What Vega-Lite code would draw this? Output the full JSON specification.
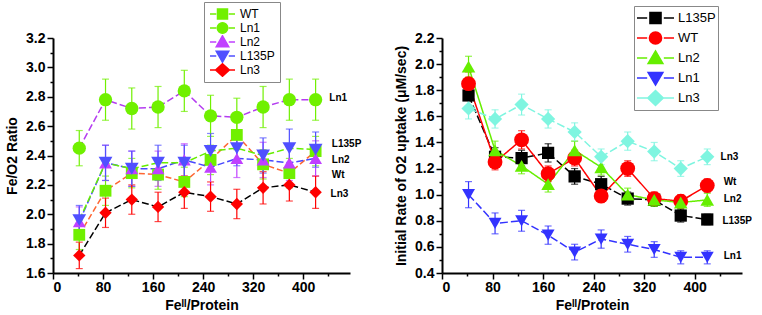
{
  "$schema": "https://vega.github.io/schema/vega-lite/v6.json",
  "padding": {"left": 5, "top": 1, "right": 0, "bottom": 0},
  "background": "white",
  "spacing": 32,
  "resolve": {
    "scale": {"color": "independent", "shape": "independent", "size": "independent", "stroke": "independent", "strokeDash": "independent"},
    "legend": {"color": "independent"}
  },
  "config": {
    "view": {"stroke": null},
    "font": "Liberation Sans",
    "axis": {
      "grid": false,
      "domainColor": "#000000",
      "domainWidth": 2,
      "tickColor": "#000000",
      "tickWidth": 1.5,
      "tickSize": 6,
      "labelOverlap": false,
      "labelFont": "Liberation Sans",
      "labelFontWeight": "bold",
      "labelFontSize": 14,
      "labelColor": "#000000",
      "titleFont": "Liberation Sans",
      "titleFontWeight": "bold",
      "titleFontSize": 14,
      "titleColor": "#000000"
    },
    "legend": {
      "labelFont": "Liberation Sans",
      "labelColor": "#000000"
    }
  },
  "datasets": {
    "left": [
      {"s": "WT", "fe": 42, "v": 1.86, "e": 0.10},
      {"s": "WT", "fe": 84, "v": 2.16, "e": 0.10},
      {"s": "WT", "fe": 126, "v": 2.28, "e": 0.10},
      {"s": "WT", "fe": 168, "v": 2.27, "e": 0.10},
      {"s": "WT", "fe": 210, "v": 2.22, "e": 0.10},
      {"s": "WT", "fe": 252, "v": 2.37, "e": 0.10},
      {"s": "WT", "fe": 294, "v": 2.54, "e": 0.10},
      {"s": "WT", "fe": 336, "v": 2.34, "e": 0.10},
      {"s": "WT", "fe": 378, "v": 2.28, "e": 0.10},
      {"s": "WT", "fe": 420, "v": 2.43, "e": 0.10},
      {"s": "Ln1", "fe": 42, "v": 2.45, "e": 0.12},
      {"s": "Ln1", "fe": 84, "v": 2.78, "e": 0.14},
      {"s": "Ln1", "fe": 126, "v": 2.72, "e": 0.14},
      {"s": "Ln1", "fe": 168, "v": 2.73, "e": 0.14},
      {"s": "Ln1", "fe": 210, "v": 2.84, "e": 0.14},
      {"s": "Ln1", "fe": 252, "v": 2.67, "e": 0.14},
      {"s": "Ln1", "fe": 294, "v": 2.66, "e": 0.13},
      {"s": "Ln1", "fe": 336, "v": 2.73, "e": 0.14},
      {"s": "Ln1", "fe": 378, "v": 2.78, "e": 0.14},
      {"s": "Ln1", "fe": 420, "v": 2.78, "e": 0.14},
      {"s": "Ln2", "fe": 42, "v": 1.95, "e": 0.10},
      {"s": "Ln2", "fe": 84, "v": 2.35, "e": 0.12},
      {"s": "Ln2", "fe": 126, "v": 2.31, "e": 0.12},
      {"s": "Ln2", "fe": 168, "v": 2.31, "e": 0.12},
      {"s": "Ln2", "fe": 210, "v": 2.37, "e": 0.11},
      {"s": "Ln2", "fe": 252, "v": 2.32, "e": 0.12},
      {"s": "Ln2", "fe": 294, "v": 2.38, "e": 0.13},
      {"s": "Ln2", "fe": 336, "v": 2.37, "e": 0.12},
      {"s": "Ln2", "fe": 378, "v": 2.35, "e": 0.12},
      {"s": "Ln2", "fe": 420, "v": 2.38, "e": 0.12},
      {"s": "L135P", "fe": 42, "v": 1.96, "e": 0.10},
      {"s": "L135P", "fe": 84, "v": 2.35, "e": 0.12},
      {"s": "L135P", "fe": 126, "v": 2.31, "e": 0.12},
      {"s": "L135P", "fe": 168, "v": 2.35, "e": 0.12},
      {"s": "L135P", "fe": 210, "v": 2.35, "e": 0.12},
      {"s": "L135P", "fe": 252, "v": 2.43, "e": 0.12},
      {"s": "L135P", "fe": 294, "v": 2.45, "e": 0.12},
      {"s": "L135P", "fe": 336, "v": 2.40, "e": 0.12},
      {"s": "L135P", "fe": 378, "v": 2.45, "e": 0.13},
      {"s": "L135P", "fe": 420, "v": 2.44, "e": 0.12},
      {"s": "Ln3", "fe": 42, "v": 1.72, "e": 0.09},
      {"s": "Ln3", "fe": 84, "v": 2.01, "e": 0.10},
      {"s": "Ln3", "fe": 126, "v": 2.10, "e": 0.10},
      {"s": "Ln3", "fe": 168, "v": 2.05, "e": 0.10},
      {"s": "Ln3", "fe": 210, "v": 2.15, "e": 0.11},
      {"s": "Ln3", "fe": 252, "v": 2.12, "e": 0.10},
      {"s": "Ln3", "fe": 294, "v": 2.07, "e": 0.10},
      {"s": "Ln3", "fe": 336, "v": 2.18, "e": 0.11},
      {"s": "Ln3", "fe": 378, "v": 2.20, "e": 0.11},
      {"s": "Ln3", "fe": 420, "v": 2.15, "e": 0.11}
    ],
    "right": [
      {"s": "L135P", "fe": 42, "v": 1.76, "e": 0.09},
      {"s": "L135P", "fe": 84, "v": 1.29, "e": 0.07},
      {"s": "L135P", "fe": 126, "v": 1.28, "e": 0.06},
      {"s": "L135P", "fe": 168, "v": 1.32, "e": 0.07},
      {"s": "L135P", "fe": 210, "v": 1.14, "e": 0.06},
      {"s": "L135P", "fe": 252, "v": 1.08, "e": 0.06},
      {"s": "L135P", "fe": 294, "v": 0.97, "e": 0.05},
      {"s": "L135P", "fe": 336, "v": 0.96, "e": 0.05},
      {"s": "L135P", "fe": 378, "v": 0.84, "e": 0.05},
      {"s": "L135P", "fe": 420, "v": 0.81, "e": 0.04},
      {"s": "WT", "fe": 42, "v": 1.85, "e": 0.09},
      {"s": "WT", "fe": 84, "v": 1.25, "e": 0.06},
      {"s": "WT", "fe": 126, "v": 1.42, "e": 0.07},
      {"s": "WT", "fe": 168, "v": 1.16, "e": 0.06},
      {"s": "WT", "fe": 210, "v": 1.28, "e": 0.06},
      {"s": "WT", "fe": 252, "v": 0.99, "e": 0.05},
      {"s": "WT", "fe": 294, "v": 1.20, "e": 0.06},
      {"s": "WT", "fe": 336, "v": 0.97, "e": 0.05},
      {"s": "WT", "fe": 378, "v": 0.95, "e": 0.05},
      {"s": "WT", "fe": 420, "v": 1.07, "e": 0.05},
      {"s": "Ln2", "fe": 42, "v": 1.98, "e": 0.08},
      {"s": "Ln2", "fe": 84, "v": 1.34, "e": 0.07},
      {"s": "Ln2", "fe": 126, "v": 1.22, "e": 0.06},
      {"s": "Ln2", "fe": 168, "v": 1.08, "e": 0.06},
      {"s": "Ln2", "fe": 210, "v": 1.34, "e": 0.07},
      {"s": "Ln2", "fe": 252, "v": 1.21, "e": 0.06},
      {"s": "Ln2", "fe": 294, "v": 1.00, "e": 0.05},
      {"s": "Ln2", "fe": 336, "v": 0.96, "e": 0.05},
      {"s": "Ln2", "fe": 378, "v": 0.94, "e": 0.05},
      {"s": "Ln2", "fe": 420, "v": 0.96, "e": 0.05},
      {"s": "Ln1", "fe": 42, "v": 1.00, "e": 0.10},
      {"s": "Ln1", "fe": 84, "v": 0.78, "e": 0.08},
      {"s": "Ln1", "fe": 126, "v": 0.80, "e": 0.08},
      {"s": "Ln1", "fe": 168, "v": 0.69, "e": 0.07},
      {"s": "Ln1", "fe": 210, "v": 0.56, "e": 0.06},
      {"s": "Ln1", "fe": 252, "v": 0.66, "e": 0.07},
      {"s": "Ln1", "fe": 294, "v": 0.62, "e": 0.06},
      {"s": "Ln1", "fe": 336, "v": 0.58, "e": 0.06},
      {"s": "Ln1", "fe": 378, "v": 0.52, "e": 0.05},
      {"s": "Ln1", "fe": 420, "v": 0.52, "e": 0.05},
      {"s": "Ln3", "fe": 42, "v": 1.66, "e": 0.08},
      {"s": "Ln3", "fe": 84, "v": 1.58, "e": 0.07},
      {"s": "Ln3", "fe": 126, "v": 1.69, "e": 0.08},
      {"s": "Ln3", "fe": 168, "v": 1.58, "e": 0.07},
      {"s": "Ln3", "fe": 210, "v": 1.48, "e": 0.07},
      {"s": "Ln3", "fe": 252, "v": 1.29, "e": 0.06},
      {"s": "Ln3", "fe": 294, "v": 1.41, "e": 0.07},
      {"s": "Ln3", "fe": 336, "v": 1.33, "e": 0.07},
      {"s": "Ln3", "fe": 378, "v": 1.20, "e": 0.06},
      {"s": "Ln3", "fe": 420, "v": 1.29, "e": 0.06}
    ],
    "leftLabels": [
      {"t": "Ln1", "fe": 442, "v": 2.79},
      {"t": "L135P", "fe": 446, "v": 2.48},
      {"t": "Ln2", "fe": 446, "v": 2.37},
      {"t": "Wt", "fe": 446, "v": 2.27},
      {"t": "Ln3", "fe": 444, "v": 2.14}
    ],
    "rightLabels": [
      {"t": "Ln3", "fe": 441, "v": 1.29},
      {"t": "Wt", "fe": 446, "v": 1.10},
      {"t": "Ln2", "fe": 446, "v": 0.97},
      {"t": "L135P", "fe": 444, "v": 0.80},
      {"t": "Ln1", "fe": 446, "v": 0.53}
    ]
  },
  "hconcat": [
    {
      "width": 297,
      "height": 235,
      "encoding": {
        "x": {"field": "fe", "type": "quantitative", "scale": {"domain": [0, 475], "nice": false},
              "axis": {"title": "Feᴵᴵ/Protein", "values": [0, 40, 80, 120, 160, 200, 240, 280, 320, 360, 400, 440],
                       "labelExpr": "datum.value % 80 === 0 ? datum.label : ''", "labelPadding": 1, "titlePadding": 4,
                       "encoding": {"ticks": {"y2": {"value": {"expr": "datum.value % 80 === 0 ? 6 : 3"}}}}}},
        "y": {"field": "v", "type": "quantitative", "scale": {"domain": [1.6, 3.2], "nice": false},
              "axis": {"title": "Fe/O2 Ratio", "values": [1.6, 1.7, 1.8, 1.9, 2.0, 2.1, 2.2, 2.3, 2.4, 2.5, 2.6, 2.7, 2.8, 2.9, 3.0, 3.1, 3.2],
                       "labelExpr": "round(datum.value*10) % 2 === 0 ? format(datum.value, '.1f') : ''", "labelPadding": 2, "titlePadding": 6,
                       "encoding": {"ticks": {"x2": {"value": {"expr": "round(datum.value*10) % 2 === 0 ? -6 : -3"}}}}}}
      },
      "layer": [
        {
          "data": {"name": "left"},
          "mark": {"type": "line", "strokeWidth": 1.5},
          "encoding": {
            "stroke": {"field": "s", "type": "nominal",
                       "scale": {"domain": ["L135P", "Ln1", "Ln2", "Ln3", "WT"], "range": ["#66ee00", "#b43cf0", "#4848ff", "#000000", "#ff6633"]},
                       "legend": null},
            "strokeDash": {"field": "s", "type": "nominal",
                           "scale": {"domain": ["L135P", "Ln1", "Ln2", "Ln3", "WT"], "range": [[7, 3], [7, 3], [7, 3], [7, 3], [6, 3]]},
                           "legend": null}
          }
        },
        {
          "data": {"name": "left"},
          "mark": {"type": "errorbar", "ticks": {"size": 7, "thickness": 1.2}, "thickness": 1.2},
          "encoding": {
            "yError": {"field": "e"},
            "color": {"field": "s", "type": "nominal"}
          }
        },
        {
          "data": {"name": "left"},
          "mark": {"type": "point", "filled": true, "opacity": 1, "strokeWidth": 0},
          "encoding": {
            "color": {"field": "s", "type": "nominal",
                      "scale": {"domain": ["WT", "Ln1", "Ln2", "L135P", "Ln3"], "range": ["#70f000", "#70f000", "#c040ff", "#5050ff", "#ff0000"]},
                      "legend": {"orient": "none", "legendX": 151, "legendY": -36, "title": null,
                                 "symbolSize": 625, "clipHeight": 14, "rowPadding": 0, "padding": 5,
                                 "strokeColor": "#888888", "labelFontSize": 12, "labelOffset": 4,
                                 "encoding": {"symbols": {
                                   "shape": {"value": {"expr": "datum.value === 'WT' ? 'M-1,0H-0.5M0.5,0H1M-0.4,-0.4H0.4V0.4H-0.4Z' : datum.value === 'Ln1' ? 'M-1,0H-0.5M0.5,0H1M-0.42,0A0.42,0.42 0 1,0 0.42,0A0.42,0.42 0 1,0 -0.42,0Z' : datum.value === 'Ln2' ? 'M-1,0H-0.5M0.5,0H1M0,-0.5L0.5,0.38H-0.5Z' : datum.value === 'L135P' ? 'M-1,0H-0.5M0.5,0H1M0,0.5L0.5,-0.38H-0.5Z' : 'M-1,0H-0.55M0.55,0H1M0,-0.5L0.55,0L0,0.5L-0.55,0Z'"}},
                                   "stroke": {"value": {"expr": "datum.value === 'WT' ? '#ff6633' : datum.value === 'Ln1' ? '#b43cf0' : datum.value === 'Ln2' ? '#4848ff' : datum.value === 'L135P' ? '#66ee00' : '#000000'"}},
                                   "size": {"value": 625},
                                   "strokeWidth": {"value": 1.5},
                                   "opacity": {"value": 1},
                                   "fillOpacity": {"value": 1},
                                   "strokeOpacity": {"value": 1}}}}},
            "shape": {"field": "s", "type": "nominal",
                      "scale": {"domain": ["L135P", "Ln1", "Ln2", "Ln3", "WT"], "range": ["triangle-down", "circle", "triangle-up", "diamond", "square"]},
                      "legend": null},
            "size": {"field": "s", "type": "nominal",
                     "scale": {"domain": ["L135P", "Ln1", "Ln2", "Ln3", "WT"], "range": [190, 140, 190, 200, 135]},
                     "legend": null}
          }
        },
        {
          "data": {"name": "leftLabels"},
          "mark": {"type": "text", "align": "left", "baseline": "middle", "fontWeight": "bold", "fontSize": 10, "font": "Liberation Sans", "color": "#000000"},
          "encoding": {
            "text": {"field": "t"}
          }
        }
      ]
    },
    {
      "width": 300,
      "height": 235,
      "encoding": {
        "x": {"field": "fe", "type": "quantitative", "scale": {"domain": [0, 475], "nice": false},
              "axis": {"title": "Feᴵᴵ/Protein", "values": [0, 40, 80, 120, 160, 200, 240, 280, 320, 360, 400, 440],
                       "labelExpr": "datum.value % 80 === 0 ? datum.label : ''", "labelPadding": 1, "titlePadding": 4,
                       "encoding": {"ticks": {"y2": {"value": {"expr": "datum.value % 80 === 0 ? 6 : 3"}}}}}},
        "y": {"field": "v", "type": "quantitative", "scale": {"domain": [0.4, 2.2], "nice": false},
              "axis": {"title": "Initial Rate of O2 uptake (μM/sec)", "values": [0.4, 0.5, 0.6, 0.7, 0.8, 0.9, 1.0, 1.1, 1.2, 1.3, 1.4, 1.5, 1.6, 1.7, 1.8, 1.9, 2.0, 2.1, 2.2],
                       "labelExpr": "round(datum.value*10) % 2 === 0 ? format(datum.value, '.1f') : ''", "labelPadding": 2, "titlePadding": 6,
                       "encoding": {"ticks": {"x2": {"value": {"expr": "round(datum.value*10) % 2 === 0 ? -6 : -3"}}}}}}
      },
      "layer": [
        {
          "data": {"name": "right"},
          "mark": {"type": "line", "strokeWidth": 1.5},
          "encoding": {
            "stroke": {"field": "s", "type": "nominal",
                       "scale": {"domain": ["L135P", "Ln1", "Ln2", "Ln3", "WT"], "range": ["#000000", "#3333ff", "#66ee00", "#7ff5e0", "#ff0000"]},
                       "legend": null},
            "strokeDash": {"field": "s", "type": "nominal",
                           "scale": {"domain": ["L135P", "Ln1", "Ln2", "Ln3", "WT"], "range": [[8, 3], [8, 3], [1, 0], [8, 3], [1, 0]]},
                           "legend": null}
          }
        },
        {
          "data": {"name": "right"},
          "mark": {"type": "errorbar", "ticks": {"size": 7, "thickness": 1.2}, "thickness": 1.2},
          "encoding": {
            "yError": {"field": "e"},
            "color": {"field": "s", "type": "nominal"}
          }
        },
        {
          "data": {"name": "right"},
          "mark": {"type": "point", "filled": true, "opacity": 1, "strokeWidth": 0},
          "encoding": {
            "color": {"field": "s", "type": "nominal",
                      "scale": {"domain": ["L135P", "WT", "Ln2", "Ln1", "Ln3"], "range": ["#000000", "#ff0000", "#66ee00", "#3333ff", "#7ff5e0"]},
                      "legend": {"orient": "none", "legendX": 192, "legendY": -32, "title": null,
                                 "symbolSize": 1369, "clipHeight": 20, "rowPadding": 0, "padding": 2,
                                 "strokeColor": "#888888", "labelFontSize": 13, "labelOffset": 3,
                                 "encoding": {"symbols": {
                                   "shape": {"value": {"expr": "datum.value === 'L135P' ? 'M-1,0H-0.45M0.45,0H1M-0.3,-0.3H0.3V0.3H-0.3Z' : datum.value === 'WT' ? 'M-1,0H-0.45M0.45,0H1M-0.33,0A0.33,0.33 0 1,0 0.33,0A0.33,0.33 0 1,0 -0.33,0Z' : datum.value === 'Ln2' ? 'M-1,0H-0.45M0.45,0H1M0,-0.38L0.4,0.3H-0.4Z' : datum.value === 'Ln1' ? 'M-1,0H-0.45M0.45,0H1M0,0.38L0.4,-0.3H-0.4Z' : 'M-1,0H-0.45M0.45,0H1M0,-0.4L0.42,0L0,0.4L-0.42,0Z'"}},
                                   "stroke": {"value": {"expr": "datum.value === 'L135P' ? '#000000' : datum.value === 'WT' ? '#ff0000' : datum.value === 'Ln2' ? '#66ee00' : datum.value === 'Ln1' ? '#3333ff' : '#7ff5e0'"}},
                                   "size": {"value": 1369},
                                   "strokeWidth": {"value": 1.5},
                                   "opacity": {"value": 1},
                                   "fillOpacity": {"value": 1},
                                   "strokeOpacity": {"value": 1}}}}},
            "shape": {"field": "s", "type": "nominal",
                      "scale": {"domain": ["L135P", "Ln1", "Ln2", "Ln3", "WT"], "range": ["square", "triangle-down", "triangle-up", "diamond", "circle"]},
                      "legend": null},
            "size": {"field": "s", "type": "nominal",
                     "scale": {"domain": ["L135P", "Ln1", "Ln2", "Ln3", "WT"], "range": [150, 220, 220, 250, 170]},
                     "legend": null}
          }
        },
        {
          "data": {"name": "rightLabels"},
          "mark": {"type": "text", "align": "left", "baseline": "middle", "fontWeight": "bold", "fontSize": 10, "font": "Liberation Sans", "color": "#000000"},
          "encoding": {
            "text": {"field": "t"}
          }
        }
      ]
    }
  ]
}
